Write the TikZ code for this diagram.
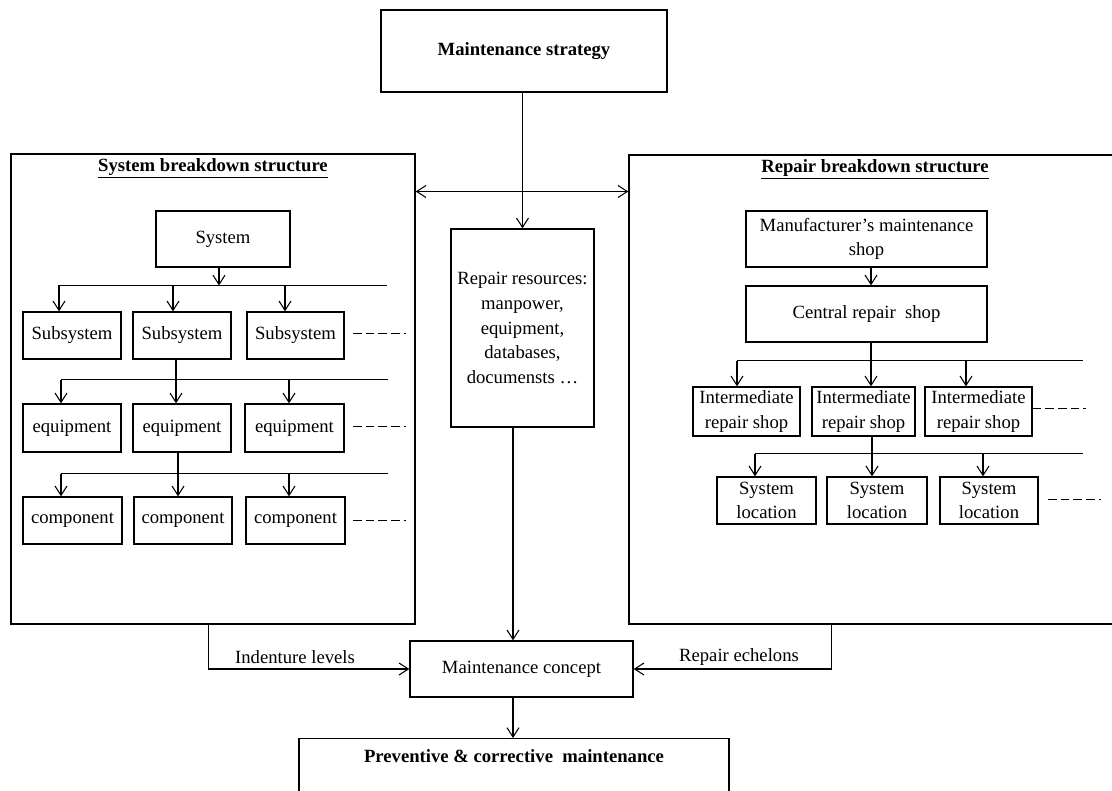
\documentclass[tikz,border=0pt]{standalone}
\usepackage{fontspec}
\setmainfont{Liberation Serif}
\usetikzlibrary{arrows.meta}

% box given by its corners (in px units): name, x1, y1, x2, y2, text
\newcommand\mybox[6]{%
  \node[box, minimum width={(#4-#2)*0.75pt}, minimum height={(#5-#3)*0.75pt}]
    (#1) at ({(#2+#4)/2},{(#3+#5)/2}) {#6};}

\tikzset{
  txt/.style={font=\fontsize{14}{18.5}\selectfont, inner sep=0pt, align=center},
  box/.style={txt, draw, line width=1pt},
  arr/.style={line width=0.8pt, -{Straight Barb[length=7pt,width=9pt]}},
  darr/.style={line width=0.8pt, {Straight Barb[length=7pt,width=9pt]}-{Straight Barb[length=7pt,width=9pt]}},
  ln/.style={line width=0.8pt},
  dsh/.style={line width=0.7pt, dash pattern=on 6.5pt off 3pt},
  ttl/.style={txt, font=\fontsize{14}{18.5}\selectfont\bfseries}
}

\begin{document}
\begin{tikzpicture}[x=0.75pt, y=-0.75pt]
\useasboundingbox (0,0) rectangle (1112,791);

% ---- top and centre column ----
\mybox{strat}{381}{10}{667}{92}{\bfseries Maintenance strategy}
\mybox{res}{451}{229}{594}{427}{Repair resources:\\manpower,\\equipment,\\databases,\\documensts …}
\mybox{concept}{410}{641}{633}{697}{Maintenance concept}
\node[box, anchor=north, minimum width={430*0.75pt}, inner ysep=0pt,
      text height=18pt, text depth=50pt, font=\fontsize{14}{18.5}\selectfont\bfseries]
  (prev) at (514,738) {Preventive \& corrective~~maintenance};

% ---- the two breakdown structures ----
\mybox{sbs}{11}{154}{415}{624}{}
\mybox{rbs}{629}{155}{1150}{624}{}
\node[ttl] (sbst) at (213,168) {\underline{System breakdown structure}};
\node[ttl] (rbst) at (875,169) {\underline{Repair breakdown structure}};

% system breakdown
\mybox{sys}{156}{211}{290}{267}{System}
\mybox{sub1}{23}{312}{121}{359}{Subsystem}
\mybox{sub2}{133}{312}{231}{359}{Subsystem}
\mybox{sub3}{247}{312}{344}{359}{Subsystem}
\mybox{eq1}{23}{404}{121}{452}{equipment}
\mybox{eq2}{133}{404}{231}{452}{equipment}
\mybox{eq3}{245}{404}{344}{452}{equipment}
\mybox{co1}{23}{497}{122}{544}{component}
\mybox{co2}{134}{497}{232}{544}{component}
\mybox{co3}{246}{497}{345}{544}{component}

\coordinate (b1l) at (59,285.5);  \coordinate (b1r) at (387,285.5);
\coordinate (b2l) at (61,379.5);  \coordinate (b2r) at (388,379.5);
\coordinate (b3l) at (61,473.5);  \coordinate (b3r) at (388,473.5);
\coordinate (s1) at (219,0); \coordinate (d1) at (173,0); \coordinate (d2) at (285,0);
\coordinate (s2) at (176,0); \coordinate (d3) at (289,0);
\coordinate (s3) at (178,0);

\draw[arr] (sys.south -| s1) -- (s1 |- b1l);
\draw[ln] (b1l) -- (b1r);
\draw[arr] (b1l) -- (b1l |- sub1.north);
\draw[arr] (d1 |- b1l) -- (d1 |- sub2.north);
\draw[arr] (d2 |- b1l) -- (d2 |- sub3.north);

\draw[arr] (sub2.south -| s2) -- (s2 |- eq2.north);
\draw[ln] (b2l) -- (b2r);
\draw[arr] (b2l) -- (b2l |- eq1.north);
\draw[arr] (d3 |- b2l) -- (d3 |- eq3.north);

\draw[arr] (eq2.south -| s3) -- (s3 |- co2.north);
\draw[ln] (b3l) -- (b3r);
\draw[arr] (b3l) -- (b3l |- co1.north);
\draw[arr] (d3 |- b3l) -- (d3 |- co3.north);

% dashed continuation marks
\coordinate (e1) at (353,333.5); \coordinate (e2) at (353,426.5); \coordinate (e3) at (353,520.5);
\draw[dsh] (e1) -- ++(53,0);
\draw[dsh] (e2) -- ++(53,0);
\draw[dsh] (e3) -- ++(53,0);

% repair breakdown
\mybox{man}{746}{211}{987}{267}{Manufacturer’s maintenance\\shop}
\mybox{cen}{746}{286}{987}{342}{Central repair~~shop}
\mybox{int1}{693}{387}{800}{436}{Intermediate\\repair shop}
\mybox{int2}{812}{387}{915}{436}{Intermediate\\repair shop}
\mybox{int3}{925}{387}{1032}{436}{Intermediate\\repair shop}
\mybox{loc1}{717}{477}{816}{524}{System\\location}
\mybox{loc2}{827}{477}{927}{524}{System\\location}
\mybox{loc3}{940}{477}{1038}{524}{System\\location}

\coordinate (b4l) at (737,360.5); \coordinate (b4r) at (1083,360.5);
\coordinate (b5l) at (755,453.5); \coordinate (b5r) at (1083,453.5);
\coordinate (r1) at (871,0); \coordinate (r2) at (966,0);
\coordinate (r3) at (872,0); \coordinate (r4) at (983,0);

\draw[arr] (man.south -| r1) -- (r1 |- cen.north);
\draw[arr] (cen.south -| r1) -- (r1 |- int2.north);
\draw[ln] (b4l) -- (b4r);
\draw[arr] (b4l) -- (b4l |- int1.north);
\draw[arr] (r2 |- b4l) -- (r2 |- int3.north);

\draw[arr] (int2.south -| r3) -- (r3 |- loc2.north);
\draw[ln] (b5l) -- (b5r);
\draw[arr] (b5l) -- (b5l |- loc1.north);
\draw[arr] (r4 |- b5l) -- (r4 |- loc3.north);

\coordinate (ie) at (0,408.5); \coordinate (le) at (1048,499.5);
\draw[dsh] (int3.east |- ie) -- ++(53,0);
\draw[dsh] (le) -- ++(53,0);

% ---- links between the blocks ----
\coordinate (mx) at (522.5,0);
\coordinate (cx) at (513,0);
\coordinate (hy) at (0,191.5);
\draw[arr] (strat.south -| mx) -- (mx |- res.north);
\draw[darr] (sbs.east |- hy) -- (rbs.west |- hy);
\draw[arr] (res.south -| cx) -- (cx |- concept.north);
\draw[arr] (concept.south -| cx) -- (cx |- prev.north);

\draw[arr] ([xshift={198*0.75pt}]sbs.south west) |- (concept.west);
\draw[arr] ([xshift={203*0.75pt}]rbs.south west) |- (concept.east);
\node[txt] (ind) at (295,657) {Indenture levels};
\node[txt] (ech) at (739,657) {Repair echelons};
\end{tikzpicture}
\end{document}
